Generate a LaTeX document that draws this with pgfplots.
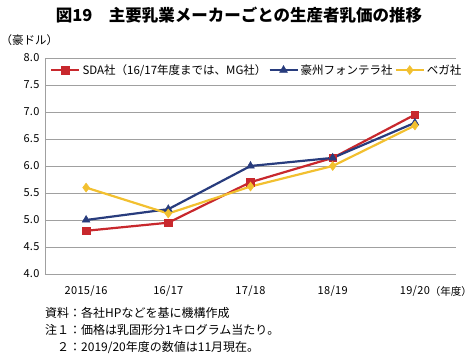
\documentclass[border=0pt]{standalone}
\usepackage{fontspec}
\setmainfont{Noto Sans CJK JP}
\usepackage{pgfplots}
\usetikzlibrary{calc}
\pgfplotsset{compat=1.18}
\definecolor{cred}{RGB}{200,40,45}
\definecolor{cblue}{RGB}{40,60,125}
\definecolor{cyel}{RGB}{242,192,48}
\definecolor{cgrid}{RGB}{160,160,160}
\begin{document}
\begin{tikzpicture}[x=1pt,y=1pt]
\begin{axis}[
  scale only axis, width=411, height=216,
  xmin=-0.5, xmax=4.5, ymin=4, ymax=8,
  xtick={0,1,2,3,4},
  xticklabels={2015/16,16/17,17/18,18/19,19/20},
  ytick={4,4.5,5,5.5,6,6.5,7,7.5,8},
  yticklabel style={/pgf/number format/fixed,/pgf/number format/fixed zerofill,/pgf/number format/precision=1},
  /pgf/number format/assume math mode=true,
  ymajorgrids, grid style={cgrid, line width=0.8pt},
  axis x line*=bottom, axis y line*=left,
  x axis line style={cgrid, line width=0.8pt, -},
  y axis line style={cgrid, line width=0.8pt, -},
  major tick length=0pt,
  tick style={draw=none},
  ticklabel style={font=\fontsize{11}{12}\selectfont\addfontfeature{LetterSpace=3}},
  xticklabel style={yshift=-8pt},
  yticklabel style={xshift=-2pt},
  legend style={at={(0.01,0.985)}, anchor=north west, draw=none, fill=white,
     legend columns=3, font=\fontsize{11.5}{13}\selectfont, inner sep=1pt,
     /tikz/every even column/.append style={column sep=0pt}},
  legend image code/.code={\draw[mark repeat=2,mark phase=2] plot coordinates {(0pt,0pt)(14pt,0pt)(28pt,0pt)};},
  every axis plot/.append style={line width=2.2pt},
  clip=false,
]
\coordinate (O0) at (rel axis cs:0,0);
\addplot[cred, mark=square*, mark size=3.8pt, mark options={solid,line width=0.5pt}] coordinates {(0,4.80)(1,4.95)(2,5.70)(3,6.15)(4,6.95)};
\addlegendentry{SDA社（16/17年度までは、MG社）}
\addplot[cblue, mark=triangle*, mark size=4.5pt, mark options={solid,line width=0.5pt}] coordinates {(0,5.00)(1,5.20)(2,6.00)(3,6.15)(4,6.80)};
\addlegendentry{豪州フォンテラ社}
\addplot[cyel, mark=diamond*, mark size=4.5pt, mark options={solid,line width=0.5pt}] coordinates {(0,5.60)(1,5.12)(2,5.62)(3,6.00)(4,6.75)};
\addlegendentry{ベガ社}
\end{axis}
\begin{scope}[shift={($(O0)+(-45,-81)$)}]
\node[font=\fontsize{16.5}{18}\bfseries\selectfont] at (239,340) {図19\quad 主要乳業メーカーごとの生産者乳価の推移};
\node[font=\fontsize{11.5}{12}\selectfont, anchor=west, inner sep=0pt] at (0.5,315) {（豪ドル）};
\node[font=\fontsize{10.5}{12}\selectfont, anchor=east, inner sep=0pt] at (472,63) {（年度）};
\node[font=\fontsize{12}{13}\selectfont, anchor=west, inner sep=0pt] at (45,42) {資料：各社HPなどを基に機構作成};
\node[font=\fontsize{12}{13}\selectfont, anchor=west, inner sep=0pt] at (45,25) {注１：価格は乳固形分1キログラム当たり。};
\node[font=\fontsize{12}{13}\selectfont, anchor=west, inner sep=0pt] at (45,7) {\phantom{注}２：2019/20年度の数値は11月現在。};
\pgfresetboundingbox
\useasboundingbox (0,0) rectangle (472,355);
\end{scope}
\end{tikzpicture}
\end{document}
